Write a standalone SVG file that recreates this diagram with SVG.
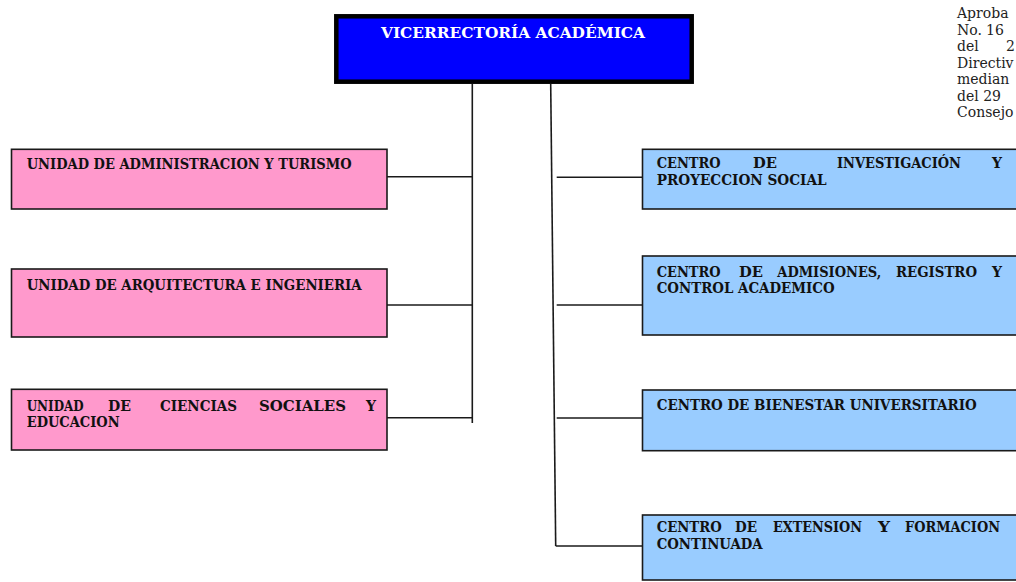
<svg xmlns="http://www.w3.org/2000/svg" width="1016" height="582" viewBox="0 0 1016 582">
<style>
.bg{fill:#ffffff}
.pink{fill:#ff99cc;stroke:#1a1a1a;stroke-width:1.6}
.blue{fill:#99ccff;stroke:#1a1a1a;stroke-width:1.6}
.top{fill:#0000ff;stroke:#000;stroke-width:4.5}
.t{font-family:"DejaVu Serif","Liberation Serif",serif;font-weight:bold;font-size:14px;fill:#111}
.tw{font-family:"DejaVu Serif","Liberation Serif",serif;font-weight:bold;font-size:14px;fill:#ffffff}
.note{font-family:"DejaVu Serif","Liberation Serif",serif;font-size:14px;fill:#222}
.ln{stroke:#1a1a1a;stroke-width:1.6;fill:none}
</style>
<rect class="bg" x="0" y="0" width="1016" height="582"/>
<g id="connectors">
<line class="ln" x1="472.3" y1="84" x2="472.3" y2="423"/>
<line class="ln" x1="387" y1="176.7" x2="472.3" y2="176.7"/>
<line class="ln" x1="387" y1="305" x2="472.3" y2="305"/>
<line class="ln" x1="387" y1="417.7" x2="472.3" y2="417.7"/>
<line class="ln" x1="550.7" y1="84" x2="555.7" y2="546"/>
<line class="ln" x1="556.7" y1="177.3" x2="642" y2="177.3"/>
<line class="ln" x1="556.7" y1="305" x2="642" y2="305"/>
<line class="ln" x1="556.7" y1="418" x2="642" y2="418"/>
<line class="ln" x1="555.7" y1="546" x2="642" y2="546"/>
</g>
<g id="vicerrectoria">
<rect class="top" x="336.3" y="16.3" width="355.4" height="65.4"/>
<text class="tw" x="513" y="38" text-anchor="middle" textLength="264" lengthAdjust="spacingAndGlyphs">VICERRECTORÍA ACADÉMICA</text>
</g>
<g id="unidad-administracion">
<rect class="pink" x="11.5" y="149.3" width="375.5" height="59.7"/>
<text class="t" x="26.7" y="168.5" textLength="325" lengthAdjust="spacingAndGlyphs">UNIDAD DE ADMINISTRACION Y TURISMO</text>
</g>
<g id="unidad-arquitectura">
<rect class="pink" x="11.5" y="269" width="375.5" height="68"/>
<text class="t" x="26.7" y="289.5" textLength="335" lengthAdjust="spacingAndGlyphs">UNIDAD DE ARQUITECTURA E INGENIERIA</text>
</g>
<g id="unidad-ciencias">
<rect class="pink" x="11.5" y="389.3" width="375.5" height="60.7"/>
<text class="t" x="26.7" y="410.5" textLength="57" lengthAdjust="spacingAndGlyphs">UNIDAD</text>
<text class="t" x="108" y="410.5" textLength="23" lengthAdjust="spacingAndGlyphs">DE</text>
<text class="t" x="160" y="410.5" textLength="77" lengthAdjust="spacingAndGlyphs">CIENCIAS</text>
<text class="t" x="259" y="410.5" textLength="87" lengthAdjust="spacingAndGlyphs">SOCIALES</text>
<text class="t" x="376" y="410.5" text-anchor="end">Y</text>
<text class="t" x="26.7" y="426.5" textLength="93" lengthAdjust="spacingAndGlyphs">EDUCACION</text>
</g>
<g id="centro-investigacion">
<rect class="blue" x="642.5" y="149.3" width="380" height="59.7"/>
<text class="t" x="656.7" y="168" textLength="64" lengthAdjust="spacingAndGlyphs">CENTRO</text>
<text class="t" x="753" y="168" textLength="24" lengthAdjust="spacingAndGlyphs">DE</text>
<text class="t" x="837" y="168" textLength="124" lengthAdjust="spacingAndGlyphs">INVESTIGACIÓN</text>
<text class="t" x="1002" y="168" text-anchor="end">Y</text>
<text class="t" x="656.7" y="185" textLength="170" lengthAdjust="spacingAndGlyphs">PROYECCION SOCIAL</text>
</g>
<g id="centro-admisiones">
<rect class="blue" x="642.5" y="256" width="380" height="79"/>
<text class="t" x="656.7" y="277" textLength="64" lengthAdjust="spacingAndGlyphs">CENTRO</text>
<text class="t" x="739" y="277" textLength="24" lengthAdjust="spacingAndGlyphs">DE</text>
<text class="t" x="777.3" y="277" textLength="104" lengthAdjust="spacingAndGlyphs">ADMISIONES,</text>
<text class="t" x="896" y="277" textLength="81" lengthAdjust="spacingAndGlyphs">REGISTRO</text>
<text class="t" x="1002" y="277" text-anchor="end">Y</text>
<text class="t" x="656.7" y="293" textLength="178" lengthAdjust="spacingAndGlyphs">CONTROL ACADEMICO</text>
</g>
<g id="centro-bienestar">
<rect class="blue" x="642.5" y="390" width="380" height="60.7"/>
<text class="t" x="656.7" y="410" textLength="320" lengthAdjust="spacingAndGlyphs">CENTRO DE BIENESTAR UNIVERSITARIO</text>
</g>
<g id="centro-extension">
<rect class="blue" x="642.5" y="515" width="380" height="65"/>
<text class="t" x="656.7" y="532" textLength="65" lengthAdjust="spacingAndGlyphs">CENTRO</text>
<text class="t" x="735" y="532" textLength="22" lengthAdjust="spacingAndGlyphs">DE</text>
<text class="t" x="773" y="532" textLength="89" lengthAdjust="spacingAndGlyphs">EXTENSION</text>
<text class="t" x="878" y="532" textLength="12" lengthAdjust="spacingAndGlyphs">Y</text>
<text class="t" x="905" y="532" textLength="95" lengthAdjust="spacingAndGlyphs">FORMACION</text>
<text class="t" x="656.7" y="549" textLength="106" lengthAdjust="spacingAndGlyphs">CONTINUADA</text>
</g>
<g id="nota">
<text class="note" x="957" y="18">Aproba</text>
<text class="note" x="957" y="34.5">No.</text>
<text class="note" x="986" y="34.5">16</text>
<text class="note" x="957" y="51">del</text>
<text class="note" x="1006" y="51">2</text>
<text class="note" x="957" y="67.5">Directiv</text>
<text class="note" x="957" y="84">median</text>
<text class="note" x="957" y="100.5">del 29</text>
<text class="note" x="957" y="117">Consejo</text>
</g>
</svg>
